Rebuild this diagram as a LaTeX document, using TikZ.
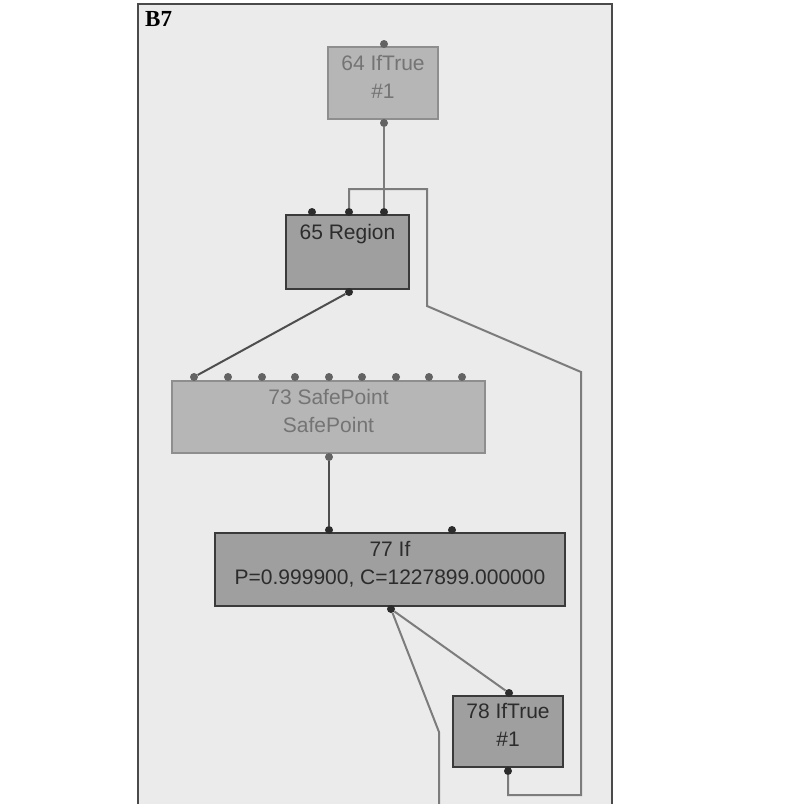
\documentclass[tikz,border=0pt]{standalone}
\usepackage{fontspec}
\setmainfont{Liberation Sans}
\newfontfamily\blockfont{Liberation Serif}
\usetikzlibrary{positioning}
\definecolor{bgfill}{HTML}{EBEBEB}
\definecolor{frameline}{HTML}{4A4A4A}
\definecolor{palefill}{HTML}{B6B6B6}
\definecolor{paleedge}{HTML}{8E8E8E}
\definecolor{paletext}{HTML}{747474}
\definecolor{darkfill}{HTML}{A09FA0}
\definecolor{darkedge}{HTML}{3A3A3A}
\definecolor{darktext}{HTML}{2C2C2C}
\definecolor{wiregray}{HTML}{7C7C7C}

\begin{document}
\begin{tikzpicture}[
    x=1pt, y=-1pt,
    irnode/.style={rectangle, inner sep=0pt, line width=2pt, align=center, text depth=13pt, font=\fontsize{21}{28}\selectfont},
    pale/.style={irnode, fill=palefill, draw=paleedge, text=paletext},
    dark/.style={irnode, fill=darkfill, draw=darkedge, text=darktext},
    port/.style={circle, fill=darktext, inner sep=0pt, minimum size=8pt},
    paleport/.style={port, fill=paletext!85!black},
    wire/.style={draw=wiregray, line width=2pt},
    darkwire/.style={wire, draw=darkedge!90}
]
    \clip (0,0) rectangle (802,804);
    \fill[white] (0,0) rectangle (802,804);

    % Block
    \draw[frameline, line width=2.5pt, fill=bgfill] (138,4) rectangle (612,830);
    \node[font=\blockfont\bfseries\fontsize{23}{24}\selectfont, anchor=north west, inner sep=0pt] (blk) at (145,11) {B7};

    % Nodes
    \node[pale, minimum width=110, minimum height=72] (n64) at (383,83) {64 IfTrue\\\#1};
    \node[dark, minimum width=123, minimum height=74] (n65) at (347.5,252) {65 Region\\\strut};
    \node[pale, minimum width=313, minimum height=72] (n73) at (328.5,417) {73 SafePoint\\SafePoint};
    \node[dark, minimum width=350, minimum height=73] (n77) at (390,569.5) {77 If\\P=0.999900, C=1227899.000000};
    \node[dark, minimum width=110, minimum height=71] (n78) at (508,731.5) {78 IfTrue\\\#1};

    % Ports
    \node[paleport] (n64in) at (384,44) {};
    \node[paleport] (n64out) at (384,123) {};
    \node[port] (n65in1) at (312,212) {};
    \node[port] (n65in2) at (349,212) {};
    \node[port] (n65in3) at (384,212) {};
    \node[port] (n65out) at (349,292) {};
    \foreach \i/\px in {1/194,2/228,3/262,4/295,5/329,6/362,7/396,8/429,9/462}
        \node[paleport] (n73in\i) at (\px,377) {};
    \node[paleport] (n73out) at (329,457) {};
    \node[port] (n77in1) at (329,530) {};
    \node[port] (n77in2) at (452,530) {};
    \node[port] (n77out) at (391,609) {};
    \node[port] (n78in) at (509,693) {};
    \node[port] (n78out) at (508,771) {};
    \coordinate (exit) at (439,830);

    % Edges
    \draw[wire] (n64out) -- (n65in3);
    \draw[wire] (n78out) |- (581,795) -- (581,372) -- (427,306) -- (427,189) -| (n65in2);
    \draw[darkwire] (n65out) -- (n73in1);
    \draw[darkwire] (n73out) -- (n77in1);
    \draw[wire] (n77out) -- (n78in);
    \draw[wire] (n77out) -- (439,732) -- (exit);

\end{tikzpicture}
\end{document}
